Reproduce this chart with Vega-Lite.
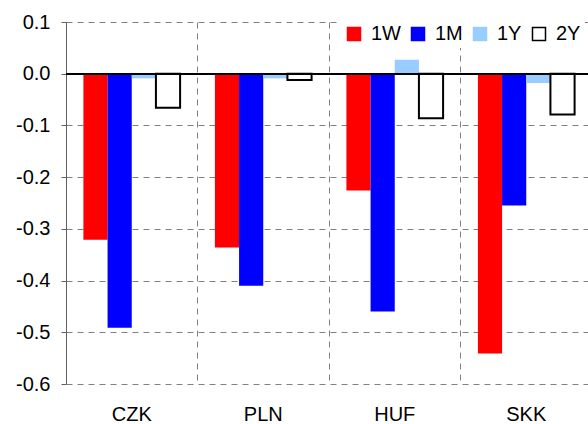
{
  "$schema": "https://vega.github.io/schema/vega-lite/v6.json",
  "width": 526,
  "height": 362,
  "autosize": "none",
  "padding": {"left": 66, "top": 22, "right": 0, "bottom": 40},
  "background": "white",
  "config": {
    "font": "Liberation Sans",
    "view": {"stroke": null},
    "locale": {"number": {"decimal": ".", "thousands": ",", "grouping": [3], "currency": ["$", ""], "minus": "-"}}
  },
  "data": {
    "values": [
      {"currency": "CZK", "series": "1W", "value": -0.321},
      {"currency": "CZK", "series": "1M", "value": -0.491},
      {"currency": "CZK", "series": "1Y", "value": -0.009},
      {"currency": "CZK", "series": "2Y", "value": -0.066},
      {"currency": "PLN", "series": "1W", "value": -0.336},
      {"currency": "PLN", "series": "1M", "value": -0.41},
      {"currency": "PLN", "series": "1Y", "value": -0.009},
      {"currency": "PLN", "series": "2Y", "value": -0.012},
      {"currency": "HUF", "series": "1W", "value": -0.226},
      {"currency": "HUF", "series": "1M", "value": -0.46},
      {"currency": "HUF", "series": "1Y", "value": 0.027},
      {"currency": "HUF", "series": "2Y", "value": -0.086},
      {"currency": "SKK", "series": "1W", "value": -0.541},
      {"currency": "SKK", "series": "1M", "value": -0.255},
      {"currency": "SKK", "series": "1Y", "value": -0.018},
      {"currency": "SKK", "series": "2Y", "value": -0.079}
    ]
  },
  "layer": [
    {
      "mark": {"type": "bar"},
      "encoding": {
        "x": {
          "field": "currency", "type": "nominal", "sort": ["CZK", "PLN", "HUF", "SKK"],
          "scale": {"paddingInner": 0, "paddingOuter": 0},
          "axis": {"title": null, "grid": true, "gridDash": [6, 5], "gridColor": "#808080", "gridWidth": 1, "bandPosition": 0, "ticks": false, "domain": false, "labelAngle": 0, "labelFontSize": 20, "labelPadding": 20, "labelColor": "#000000"}
        },
        "xOffset": {
          "field": "series", "type": "nominal", "sort": ["1W", "1M", "1Y", "2Y"],
          "scale": {"paddingInner": 0, "paddingOuter": 0.72}
        },
        "y": {
          "field": "value", "type": "quantitative",
          "scale": {"domain": [-0.6, 0.1], "nice": false, "zero": false},
          "axis": {"title": null, "values": [-0.6, -0.5, -0.4, -0.3, -0.2, -0.1, 0, 0.1], "format": ".1f", "grid": true, "gridDash": [6, 5], "gridColor": "#808080", "domainColor": "#606060", "tickColor": "#606060", "tickSize": 5, "labelFontSize": 20, "labelPadding": 11, "labelColor": "#000000"}
        },
        "fill": {
          "field": "series", "type": "nominal", "sort": ["1W", "1M", "1Y", "2Y"],
          "scale": {"domain": ["1W", "1M", "1Y", "2Y"], "range": ["#FF0000", "#0000FF", "#99CCFF", "#FFFFFF"]},
          "legend": {"title": null, "orient": "none", "direction": "horizontal", "legendX": 274, "legendY": -2, "padding": 4, "fillColor": "white", "symbolType": "square", "symbolSize": 169, "symbolStrokeWidth": 1.5, "labelFontSize": 20, "labelColor": "#000000", "labelOffset": 7, "columnPadding": 7}
        },
        "stroke": {
          "field": "series", "type": "nominal", "sort": ["1W", "1M", "1Y", "2Y"],
          "scale": {"domain": ["1W", "1M", "1Y", "2Y"], "range": ["#FF0000", "#0000FF", "#99CCFF", "#000000"]},
          "legend": {"title": null, "orient": "none", "direction": "horizontal", "legendX": 274, "legendY": -2, "padding": 4, "fillColor": "white", "symbolType": "square", "symbolSize": 169, "symbolStrokeWidth": 1.5, "labelFontSize": 20, "labelColor": "#000000", "labelOffset": 7, "columnPadding": 7}
        },
        "strokeWidth": {"condition": {"test": "datum.series === '2Y'", "value": 2}, "value": 0}
      }
    },
    {
      "mark": {"type": "rule", "color": "#000000", "strokeWidth": 1},
      "encoding": {"y": {"datum": 0}}
    }
  ]
}
